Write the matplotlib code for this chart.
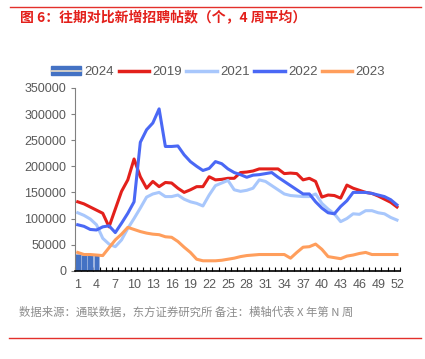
import matplotlib.pyplot as plt
import matplotlib.patches as mpatches
from matplotlib.lines import Line2D
import numpy as np

# weekly counts, 4 week average
weeks = np.arange(1, 53)

y2019 = [132000, 128000, 122000, 116000, 110000, 84000, 118000, 152000, 174000, 214000,
         180000, 158000, 171000, 161000, 169000, 168000, 158000, 150000, 155000, 161000,
         161000, 180000, 174000, 175000, 177000, 177000, 188000, 189000, 191000, 195000,
         195000, 195000, 195000, 186000, 187000, 186000, 174000, 177000, 171000, 141000,
         145000, 144000, 139000, 164000, 158000, 154000, 150000, 148000, 143000, 137000,
         131000, 122000]

y2021 = [111000, 106000, 99000, 88000, 62000, 51000, 46000, 59000, 81000, 100000,
         120000, 141000, 147000, 150000, 142000, 142000, 145000, 137000, 132000, 129000,
         124000, 145000, 163000, 168000, 173000, 155000, 152000, 154000, 158000, 174000,
         171000, 163000, 155000, 147000, 144000, 143000, 142000, 142000, 147000, 129000,
         118000, 109000, 94000, 100000, 109000, 108000, 115000, 115000, 111000, 109000,
         102000, 97000]

y2022 = [88000, 85000, 79000, 78000, 84000, 86000, 73000, 91000, 110000, 132000,
         246000, 270000, 283000, 310000, 238000, 238000, 239000, 222000, 209000, 200000,
         192000, 196000, 209000, 205000, 195000, 188000, 184000, 179000, 183000, 184000,
         186000, 188000, 179000, 171000, 163000, 155000, 147000, 147000, 132000, 120000,
         111000, 109000, 123000, 134000, 150000, 150000, 150000, 148000, 145000, 142000,
         136000, 126000]

y2023 = [35000, 31000, 31000, 30000, 29000, 44000, 59000, 70000, 83000, 79000,
         75000, 72000, 70000, 69000, 65000, 64000, 56000, 45000, 35000, 22000,
         19000, 19000, 19000, 20000, 22000, 24000, 27000, 29000, 30000, 31000,
         31000, 31000, 31000, 31000, 24000, 35000, 45000, 46000, 51000, 41000,
         27000, 25000, 23000, 28000, 30000, 33000, 35000, 31000, 31000, 31000,
         31000, 31000]

weeks_2024 = [1, 2, 3, 4]
y2024 = [32000, 31000, 30000, 30000]

yticks = [0, 50000, 100000, 150000, 200000, 250000, 300000, 350000]
xticks = list(range(1, 53, 3))

c2019 = '#E3201B'
c2021 = '#A8C7FC'
c2022 = '#4A68F5'
c2023 = '#FF9E5C'
c2024 = '#4472C4'

num_font = ['Liberation Sans', 'Noto Sans CJK SC']
cjk_font = ['Noto Sans CJK SC', 'DejaVu Sans']

fig = plt.figure(figsize=(4.25, 3.59), dpi=100)
ax = fig.add_axes([74.6 / 425, 1 - 270.7 / 359, (400.1 - 74.6) / 425, (270.7 - 88) / 359])

ax.bar(weeks_2024, y2024, width=0.9, color=c2024, edgecolor='#9DB4E0', linewidth=0.5, zorder=2)
ax.plot(weeks, y2019, color=c2019, lw=2.2, zorder=3)
ax.plot(weeks, y2021, color=c2021, lw=2.2, zorder=3)
ax.plot(weeks, y2022, color=c2022, lw=2.2, zorder=3)
ax.plot(weeks, y2023, color=c2023, lw=2.2, zorder=3)

ax.set_xlim(0.5, 52.5)
ax.set_ylim(0, 350000)
ax.set_yticks(yticks)
ax.set_yticklabels([str(v) for v in yticks], fontfamily=num_font, fontsize=9, color='#595959')
ax.set_xticks(xticks)
ax.set_xticklabels([str(v) for v in xticks], fontfamily=num_font, fontsize=9, color='#595959')
ax.set_xticks(np.arange(0.5, 53, 1), minor=True)
ax.tick_params(axis='x', which='major', length=0, pad=6)
ax.tick_params(axis='x', which='minor', direction='in', length=3, width=0.8, color='black')
ax.tick_params(axis='y', direction='out', length=3, width=0.8, color='#808080', pad=3)

for s in ['top', 'right']:
    ax.spines[s].set_visible(False)
ax.spines['left'].set_color('#808080')
ax.spines['bottom'].set_color('black')
ax.spines['bottom'].set_linewidth(1.2)

h2024 = (mpatches.Patch(facecolor=c2024, edgecolor=c2024, lw=1),
         Line2D([], [], color='#E8DCC8', lw=1.2))
handles = [
    h2024,
    Line2D([], [], color=c2019, lw=2.5),
    Line2D([], [], color=c2021, lw=2.5),
    Line2D([], [], color=c2022, lw=2.5),
    Line2D([], [], color=c2023, lw=2.5),
]
labels = ['2024', '2019', '2021', '2022', '2023']
leg = fig.legend(handles, labels, loc='center', bbox_to_anchor=(218 / 425, 1 - 72 / 359),
                 ncol=5, frameon=False, handlelength=2.3, handleheight=0.6, handletextpad=0.25,
                 columnspacing=0.35, prop={'family': num_font, 'size': 9.5})
for t in leg.get_texts():
    t.set_color('#595959')

# title, source note and red rules
fig.text(20 / 425, 1 - 18 / 359, '图 6：往期对比新增招聘帖数（个，4 周平均）', color='#E3201B',
         fontsize=10, fontweight='bold', family=cjk_font, va='center', ha='left')
fig.text(19 / 425, 1 - 312 / 359, '数据来源：通联数据，东方证券研究所 备注：横轴代表 X 年第 N 周',
         color='#8C8C8C', fontsize=8.2, family=cjk_font, va='center', ha='left')
fig.add_artist(Line2D([10 / 425, 421 / 425], [1 - 7 / 359, 1 - 7 / 359], color='#E3302B', lw=1))
fig.add_artist(Line2D([9 / 425, 421 / 425], [1 - 338 / 359, 1 - 338 / 359], color='#E3302B', lw=1))

fig.savefig('out.png', dpi=100)
